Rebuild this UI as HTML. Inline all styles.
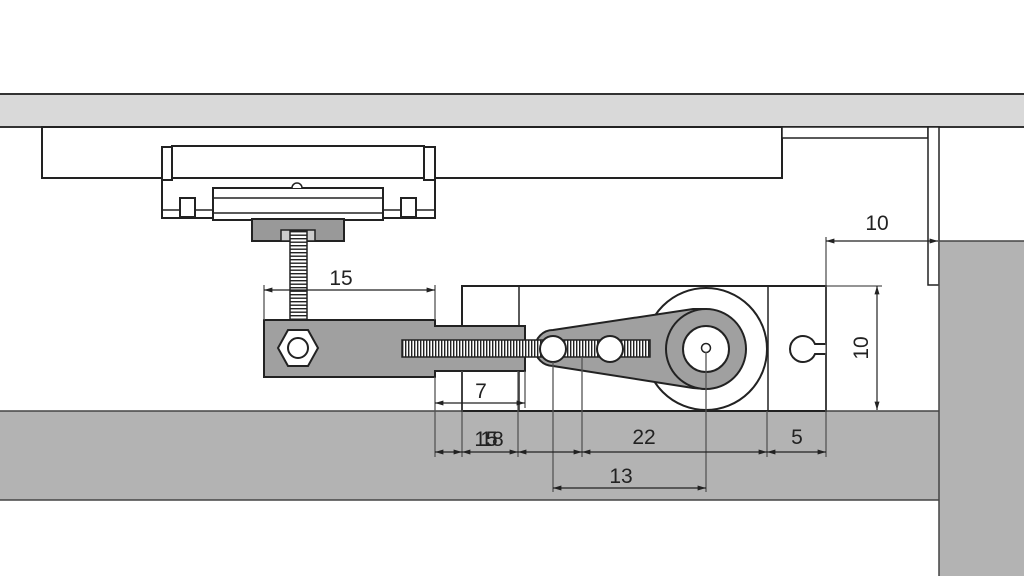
<!DOCTYPE html>
<html><head><meta charset="utf-8"><style>html,body{margin:0;padding:0;background:#fff}svg{display:block}text{font-family:"Liberation Sans",sans-serif;font-size:21px;fill:#222}</style></head><body>
<svg width="1024" height="576" viewBox="0 0 1024 576" xmlns="http://www.w3.org/2000/svg">
<defs>
<pattern id="tv" width="3" height="10" patternUnits="userSpaceOnUse"><rect width="3" height="10" fill="#fff"/><rect width="1.4" height="10" fill="#222"/></pattern>
<pattern id="th" width="10" height="3.5" patternUnits="userSpaceOnUse"><rect width="10" height="3.5" fill="#fff"/><rect width="10" height="1.4" fill="#222"/></pattern>
<marker id="a" viewBox="0 0 10 10" refX="10" refY="5" markerWidth="7" markerHeight="7" orient="auto-start-reverse"><path d="M0,2 L10,5 L0,8z" fill="#222"/></marker>
</defs>
<rect x="-2" y="94" width="1030" height="33" fill="#d9d9d9" stroke="#333" stroke-width="2"/>
<rect x="42" y="127" width="740" height="51" fill="#fff" stroke="#222" stroke-width="2"/>
<rect x="782" y="127" width="146" height="11" fill="#fff" stroke="#222" stroke-width="1.5"/>
<rect x="928" y="127" width="11" height="158" fill="#fff" stroke="#222" stroke-width="1.5"/>
<rect x="-2" y="411" width="942" height="89" fill="#b3b3b3" stroke="#444" stroke-width="1.5"/>
<rect x="939" y="241" width="90" height="340" fill="#b3b3b3" stroke="#444" stroke-width="1.5"/>
<!-- carriage -->
<rect x="162" y="178" width="273" height="40" fill="#fff" stroke="#222" stroke-width="2"/>
<rect x="172" y="146" width="252" height="32" fill="#fff" stroke="#222" stroke-width="2"/>
<rect x="162" y="147" width="10" height="33" fill="#fff" stroke="#222" stroke-width="2"/>
<rect x="424" y="147" width="11" height="33" fill="#fff" stroke="#222" stroke-width="2"/>
<line x1="162" y1="210" x2="435" y2="210" stroke="#222" stroke-width="1.5"/>
<rect x="180" y="198" width="15" height="19" fill="#fff" stroke="#222" stroke-width="2"/>
<rect x="401" y="198" width="15" height="19" fill="#fff" stroke="#222" stroke-width="2"/>
<rect x="213" y="188" width="170" height="32" fill="#fff" stroke="#222" stroke-width="2"/>
<line x1="213" y1="198" x2="383" y2="198" stroke="#222" stroke-width="1.5"/>
<line x1="213" y1="213" x2="383" y2="213" stroke="#222" stroke-width="1.5"/>
<path d="M292,188 A5,5 0 0 1 302,188" fill="#fff" stroke="#222" stroke-width="1.5"/>
<rect x="252" y="219" width="92" height="22" fill="#999" stroke="#222" stroke-width="2"/>
<rect x="281" y="230" width="34" height="11" fill="#ccc" stroke="#222" stroke-width="1.5"/>
<rect x="290" y="231" width="17" height="90" fill="url(#th)" stroke="#222" stroke-width="1.5"/>
<!-- servo body -->
<rect x="462" y="286" width="364" height="125" fill="#fff" stroke="#222" stroke-width="2"/>
<line x1="519" y1="286" x2="519" y2="411" stroke="#222" stroke-width="1.5"/>
<line x1="768" y1="286" x2="768" y2="411" stroke="#222" stroke-width="1.5"/>
<path d="M826,344 H815 A13,13 0 1 0 815,354 H826" fill="#fff" stroke="#222" stroke-width="2"/>
<circle cx="706" cy="349" r="61" fill="#fff" stroke="#222" stroke-width="2"/>
<!-- arm block -->
<path d="M264,320 H435 V326 H525 V371 H435 V377 H264 Z" fill="#a0a0a0" stroke="#222" stroke-width="2"/>
<polygon points="278,348 288,330 308,330 318,348 308,366 288,366" fill="#fff" stroke="#222" stroke-width="2"/>
<circle cx="298" cy="348" r="10" fill="#fff" stroke="#222" stroke-width="2"/>
<path d="M553,330 L693,309 L706,309 L706,389 L693,388 L553,366 A18,18 0 0 1 553,330Z" fill="#a0a0a0" stroke="#222" stroke-width="2"/>
<rect x="402" y="340" width="248" height="17" fill="url(#tv)" stroke="#222" stroke-width="1.5"/>
<circle cx="706" cy="349" r="40" fill="#a0a0a0" stroke="#222" stroke-width="2"/>
<circle cx="706" cy="349" r="23" fill="#fff" stroke="#222" stroke-width="2"/>
<circle cx="706" cy="348" r="4.5" fill="#fff" stroke="#222" stroke-width="1.5"/>
<circle cx="553" cy="349" r="13" fill="#fff" stroke="#222" stroke-width="2"/>
<circle cx="610" cy="349" r="13" fill="#fff" stroke="#222" stroke-width="2"/>
<!-- extension lines -->
<g stroke="#555" stroke-width="1.3">
<line x1="264" y1="285" x2="264" y2="320"/>
<line x1="435" y1="285" x2="435" y2="320"/>
<line x1="435" y1="377" x2="435" y2="457"/>
<line x1="525" y1="371" x2="525" y2="408"/>
<line x1="462" y1="371" x2="462" y2="457"/>
<line x1="518" y1="371" x2="518" y2="457"/>
<line x1="553" y1="362" x2="553" y2="492"/>
<line x1="582" y1="357" x2="582" y2="457"/>
<line x1="706" y1="352" x2="706" y2="492"/>
<line x1="767" y1="411" x2="767" y2="457"/>
<line x1="826" y1="237" x2="826" y2="457"/>
<line x1="826" y1="286" x2="882" y2="286"/>
</g>
<g stroke="#222" stroke-width="1.2" marker-start="url(#a)" marker-end="url(#a)">
<line x1="264" y1="290" x2="435" y2="290"/>
<line x1="435" y1="403" x2="525" y2="403"/>
<line x1="826" y1="241" x2="938" y2="241"/>
<line x1="877" y1="286" x2="877" y2="410"/>
<line x1="435" y1="452" x2="462" y2="452"/>
<line x1="462" y1="452" x2="518" y2="452"/>
<line x1="518" y1="452" x2="582" y2="452"/>
<line x1="582" y1="452" x2="767" y2="452"/>
<line x1="767" y1="452" x2="826" y2="452"/>
<line x1="553" y1="488" x2="706" y2="488"/>
</g>
<text x="341" y="285" text-anchor="middle">15</text>
<text x="481" y="398" text-anchor="middle">7</text>
<text x="877" y="230" text-anchor="middle">10</text>
<text x="486" y="446" text-anchor="middle">15</text>
<text x="492" y="446" text-anchor="middle">18</text>
<text x="644" y="444" text-anchor="middle">22</text>
<text x="797" y="444" text-anchor="middle">5</text>
<text x="621" y="483" text-anchor="middle">13</text>
<text transform="translate(868,348) rotate(-90)" text-anchor="middle">10</text>
</svg>
</body></html>
